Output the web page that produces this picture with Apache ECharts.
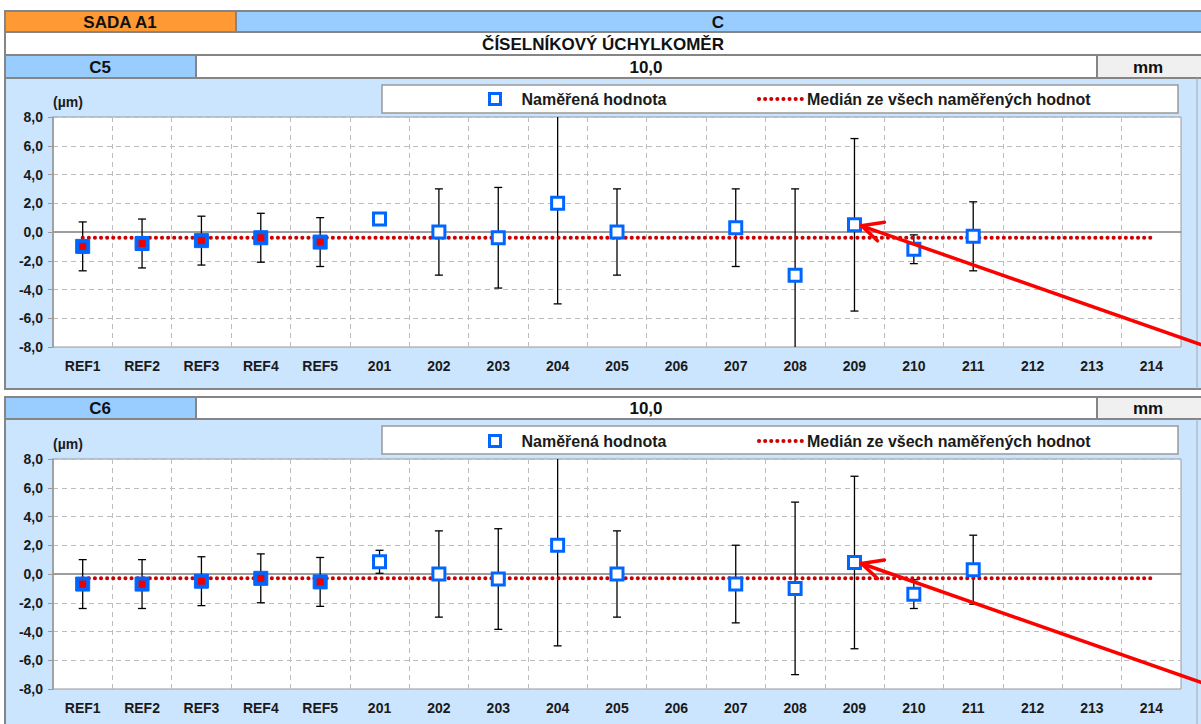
<!DOCTYPE html>
<html>
<head>
<meta charset="utf-8">
<script src="https://cdn.jsdelivr.net/npm/echarts@6/dist/echarts.min.js"></script>
<style>
  html, body { margin: 0; padding: 0; background: #fff; }
  #chart { width: 1201px; height: 724px; }
</style>
</head>
<body>
<div id="chart"></div>
<script>
// categories on the x axis
const categories = ['REF1', 'REF2', 'REF3', 'REF4', 'REF5', '201', '202', '203', '204', '205',
  '206', '207', '208', '209', '210', '211', '212', '213', '214'];
const yTicks = [-8, -6, -4, -2, 0, 2, 4, 6, 8];

// C5 - measured values (µm) and half-width of the error bars
const c5Values = [-1.0, -0.8, -0.6, -0.4, -0.7, 0.9, 0.0, -0.4, 2.0, 0.0, null, 0.3, -3.0, 0.5, -1.2, -0.3, null, null, null];
const c5Errors = [1.7, 1.7, 1.7, 1.7, 1.7, null, 3.0, 3.5, 7.0, 3.0, null, 2.7, 6.0, 6.0, 1.0, 2.4, null, null, null];
const c5Median = -0.4;

// C6
const c6Values = [-0.7, -0.7, -0.5, -0.3, -0.55, 0.85, 0.0, -0.35, 2.0, 0.0, null, -0.7, -1.0, 0.8, -1.4, 0.3, null, null, null];
const c6Errors = [1.7, 1.7, 1.7, 1.7, 1.7, 0.8, 3.0, 3.5, 7.0, 3.0, null, 2.7, 6.0, 6.0, 1.0, 2.4, null, null, null];
const c6Median = -0.3;

const arrowTarget = '209';

const FONT = "'Liberation Sans', Arial, sans-serif";
const BLUE = '#0066FF';
const RED_MED = '#CC0000';
const BORDER = '#858585';
const PANEL = '#CCE5FF';
const HEAD_BLUE = '#99CCFF';

const chart = echarts.init(document.getElementById('chart'), null, { renderer: 'svg' });

function box(id, x, y, w, h, fill) {
  return { type: 'rect', id: id, z: -10, shape: { x: x, y: y, width: w, height: h },
    style: { fill: fill, stroke: BORDER, lineWidth: 2 } };
}
function label(id, x, y, text, size) {
  return { type: 'text', id: id, z: -5, x: x, y: y,
    style: { text: text, fill: '#111', font: 'bold ' + size + 'px ' + FONT, textAlign: 'center', textVerticalAlign: 'middle' } };
}

// header table + panels
const graphics = [
  box('hOrange', 5, 11, 231, 21, '#FF9933'),
  box('hBlue', 236, 11, 980, 21, HEAD_BLUE),
  box('hTitle', 5, 32, 1211, 23, '#FFFFFF'),
  label('tSada', 120, 22, 'SADA A1', 17),
  label('tC', 718, 22, 'C', 17),
  label('tTitle', 603, 44, 'ČÍSELNÍKOVÝ ÚCHYLKOMĚR', 17)
];
const panels = [
  { name: 'C5', rowTop: 55, panelTop: 78, panelH: 311 },
  { name: 'C6', rowTop: 397, panelTop: 419, panelH: 320 }
];
panels.forEach(function (p, i) {
  const rh = p.panelTop - p.rowTop;
  graphics.push(
    box('pBg' + i, 5, p.panelTop, 1211, p.panelH, PANEL),
    box('rName' + i, 5, p.rowTop, 191, rh, HEAD_BLUE),
    box('rVal' + i, 196, p.rowTop, 901, rh, '#FFFFFF'),
    box('rUnit' + i, 1097, p.rowTop, 120, rh, '#F0F0F0'),
    label('tName' + i, 100, p.rowTop + rh / 2 + 0.5, p.name, 17),
    label('tVal' + i, 646, p.rowTop + rh / 2 + 0.5, '10,0', 17),
    label('tUnit' + i, 1148, p.rowTop + rh / 2 + 0.5, 'mm', 17),
    { type: 'rect', id: 'lg' + i, z: -5, shape: { x: 382, y: p.panelTop + 7, width: 796, height: 28 },
      style: { fill: '#FFFFFF', stroke: '#999', lineWidth: 1.5 } },
    { type: 'line', id: 'rb' + i, z: -5, shape: { x1: 1197, y1: p.panelTop, x2: 1197, y2: p.panelTop + p.panelH },
      style: { stroke: '#A8A8A8', lineWidth: 1 } }
  );
});

const sets = [
  { values: c5Values, errors: c5Errors, median: c5Median, top: 117 },
  { values: c6Values, errors: c6Errors, median: c6Median, top: 459 }
];

const grids = [], xAxes = [], yAxes = [], series = [], legends = [];
sets.forEach(function (s, g) {
  grids.push({ left: 53, top: s.top, width: 1128, height: 230, show: true, z: 0,
    backgroundColor: '#FFFFFF', borderColor: '#999', borderWidth: 1 });
  xAxes.push({
    type: 'category', gridIndex: g, data: categories, boundaryGap: true,
    axisLine: { lineStyle: { color: '#999', width: 1.5 } },
    axisTick: { show: false },
    axisLabel: { interval: 0, margin: 12, color: '#1a1a1a', fontWeight: 'bold', fontSize: 14, fontFamily: FONT },
    splitLine: { show: true, interval: 0, lineStyle: { color: '#BDBDBD', type: [5, 4], width: 1 } }
  });
  yAxes.push({
    type: 'value', gridIndex: g, min: yTicks[0], max: yTicks[yTicks.length - 1], interval: 2,
    name: '(µm)', nameLocation: 'end', nameGap: 8,
    nameTextStyle: { align: 'left', verticalAlign: 'bottom', color: '#1a1a1a', fontWeight: 'bold', fontSize: 14, fontFamily: FONT },
    axisLine: { show: true, lineStyle: { color: '#999', width: 1.5 } },
    axisTick: { show: true, length: 5, lineStyle: { color: '#999' } },
    axisLabel: { margin: 10, color: '#1a1a1a', fontWeight: 'bold', fontSize: 14, fontFamily: FONT,
      formatter: function (v) { return v.toFixed(1).replace('.', ','); } },
    splitLine: { show: true, lineStyle: { color: '#BDBDBD', type: [5, 4], width: 1 } }
  });

  const bars = [], refs = [], meas = [];
  s.values.forEach(function (v, i) {
    if (v === null) return;
    if (categories[i].indexOf('REF') === 0) refs.push([i, v]); else meas.push([i, v]);
    if (s.errors[i] !== null) bars.push([i, v - s.errors[i], v + s.errors[i]]);
  });

  series.push({
    type: 'custom', name: 'err' + g, xAxisIndex: g, yAxisIndex: g, clip: true, z: 3,
    data: bars,
    renderItem: function (params, api) {
      const lo = api.coord([api.value(0), api.value(1)]);
      const hi = api.coord([api.value(0), api.value(2)]);
      const w = 4;
      const st = { stroke: '#000', lineWidth: 1.3 };
      return { type: 'group', children: [
        { type: 'line', shape: { x1: lo[0], y1: lo[1], x2: hi[0], y2: hi[1] }, style: st },
        { type: 'line', shape: { x1: lo[0] - w, y1: lo[1], x2: lo[0] + w, y2: lo[1] }, style: st },
        { type: 'line', shape: { x1: hi[0] - w, y1: hi[1], x2: hi[0] + w, y2: hi[1] }, style: st }
      ] };
    }
  });
  series.push({
    type: 'line', name: 'Medián ze všech naměřených hodnot', xAxisIndex: g, yAxisIndex: g, z: 4,
    data: categories.map(function () { return s.median; }),
    symbol: 'none', silent: true,
    lineStyle: { color: RED_MED, width: 4, type: [0.1, 6], cap: 'round' },
    itemStyle: { color: RED_MED },
    markLine: { silent: true, symbol: 'none', label: { show: false }, z: 2,
      lineStyle: { color: '#999', type: 'solid', width: 1.5 }, data: [{ yAxis: 0 }] }
  });
  series.push({
    type: 'scatter', name: 'Naměřená hodnota', xAxisIndex: g, yAxisIndex: g, z: 5,
    data: meas, symbol: 'rect', symbolSize: 12,
    itemStyle: { color: '#FFFFFF', borderColor: BLUE, borderWidth: 3, opacity: 1 }
  });
  series.push({
    type: 'scatter', name: 'ref' + g, xAxisIndex: g, yAxisIndex: g, z: 5,
    data: refs, symbol: 'rect', symbolSize: 14,
    itemStyle: { color: BLUE, borderColor: BLUE, borderWidth: 1, opacity: 1 }
  });
  series.push({
    type: 'scatter', name: 'refInner' + g, xAxisIndex: g, yAxisIndex: g, z: 6,
    data: refs, symbol: 'rect', symbolSize: 7,
    itemStyle: { color: '#EE0000', opacity: 1 }
  });

  const lgTop = s.top - 26;
  legends.push({
    data: [{ name: 'Naměřená hodnota', icon: 'rect' }], left: 488, top: lgTop, padding: 0,
    itemWidth: 11, itemHeight: 11, selectedMode: false,
    itemStyle: { color: '#FFFFFF', borderColor: BLUE, borderWidth: 3 },
    textStyle: { color: '#1a1a1a', fontWeight: 'bold', fontSize: 16, fontFamily: FONT, padding: [0, 0, 0, 16] }
  });
  legends.push({
    data: ['Medián ze všech naměřených hodnot'], left: 757, top: lgTop, padding: 0,
    itemWidth: 43, itemHeight: 12, selectedMode: false,
    itemStyle: { opacity: 0 },
    lineStyle: { width: 4, type: [0.1, 6], cap: 'round' },
    textStyle: { color: '#1a1a1a', fontWeight: 'bold', fontSize: 16, fontFamily: FONT, padding: [0, 0, 0, 0] }
  });
});

chart.setOption({
  animation: false,
  backgroundColor: '#FFFFFF',
  graphic: { elements: graphics },
  legend: legends,
  grid: grids,
  xAxis: xAxes,
  yAxis: yAxes,
  series: series
});

// red arrows pointing at the marked measurement
const ti = categories.indexOf(arrowTarget);
const arrows = [];
sets.forEach(function (s, g) {
  const p = chart.convertToPixel({ xAxisIndex: g, yAxisIndex: g }, [ti, s.values[ti]]);
  const tip = [p[0] + 7, p[1] + 1];
  const endX = 1215;
  const end = [endX, tip[1] + (endX - tip[0]) * 0.35];
  const st = { stroke: '#FF0000', lineWidth: 3.5, fill: null, lineCap: 'round', lineJoin: 'round' };
  arrows.push(
    { type: 'line', id: 'arL' + g, z: 20, shape: { x1: tip[0], y1: tip[1], x2: end[0], y2: end[1] }, style: st },
    { type: 'polyline', id: 'arH' + g, z: 20,
      shape: { points: [[tip[0] + 23, tip[1] - 3.5], tip, [tip[0] + 16, tip[1] + 15]] }, style: st }
  );
});
chart.setOption({ graphic: { elements: arrows } });
</script>
</body>
</html>
